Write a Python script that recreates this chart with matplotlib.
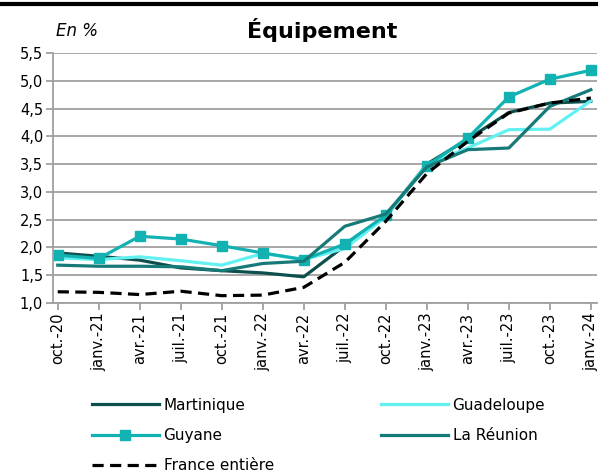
import matplotlib.pyplot as plt
from matplotlib.lines import Line2D

dates = ['oct.-20', 'janv.-21', 'avr.-21', 'juil.-21', 'oct.-21', 'janv.-22', 'avr.-22',
         'juil.-22', 'oct.-22', 'janv.-23', 'avr.-23', 'juil.-23', 'oct.-23', 'janv.-24']

martinique = [1.90, 1.84, 1.77, 1.63, 1.58, 1.54, 1.47, 2.03, 2.56, 3.50, 3.95, 4.43, 4.60, 4.63]
guadeloupe = [1.81, 1.78, 1.83, 1.76, 1.68, 1.89, 1.78, 1.98, 2.55, 3.50, 3.79, 4.12, 4.13, 4.64]
guyane = [1.86, 1.80, 2.20, 2.15, 2.03, 1.90, 1.78, 2.06, 2.58, 3.47, 3.97, 4.71, 5.03, 5.19]
reunion = [1.68, 1.66, 1.66, 1.65, 1.58, 1.71, 1.75, 2.38, 2.60, 3.45, 3.76, 3.79, 4.54, 4.84]
france = [1.20, 1.19, 1.15, 1.21, 1.13, 1.14, 1.28, 1.73, 2.47, 3.33, 3.91, 4.42, 4.60, 4.69]

c_mart = '#0d4f4d'
c_guad = '#62f0f0'
c_guy = '#13b2b2'
c_reu = '#167a78'
dash = (0, (3.5, 2))

fig = plt.figure(figsize=(6, 4.74), dpi=100)
ax = fig.add_axes([0.088, 0.361, 0.907, 0.527])

x = list(range(len(dates)))
ax.plot(x, martinique, color=c_mart, lw=2.3)
ax.plot(x, guadeloupe, color=c_guad, lw=2.3)
ax.plot(x, guyane, color=c_guy, lw=2.3, marker='s', ms=7.5)
ax.plot(x, reunion, color=c_reu, lw=2.3)
ax.plot(x, france, color='black', lw=2.3, ls=dash)

ax.set_ylim(1.0, 5.5)
ax.set_xlim(-0.12, 13.15)
yt = [1.0 + 0.5 * i for i in range(10)]
ax.set_yticks(yt)
ax.set_yticklabels([f'{v:.1f}'.replace('.', ',') for v in yt], fontsize=10.5)
ax.set_xticks(x)
ax.set_xticklabels(dates, rotation=90, fontsize=10.5)
ax.yaxis.grid(True, color='#a0a0a0', lw=1.3)
ax.set_axisbelow(True)
for s in ['top', 'right']:
    ax.spines[s].set_visible(False)
for s in ['left', 'bottom']:
    ax.spines[s].set_color('#a0a0a0')
    ax.spines[s].set_linewidth(1.3)
ax.tick_params(axis='both', color='#a0a0a0', width=1.3, length=5, pad=2)

fig.text(0.093, 0.935, 'En %', fontsize=12, style='italic', va='center')
fig.text(0.537, 0.937, 'Équipement', fontsize=16, fontweight='bold', ha='center', va='center')

# trait noir en haut
fig.add_artist(Line2D([0, 0.993], [0.991, 0.991], color='black', lw=3))

handles = [
    Line2D([], [], color=c_mart, lw=2.3),
    Line2D([], [], color=c_guy, lw=2.3, marker='s', ms=7.5),
    Line2D([], [], color='black', lw=2.3, ls=dash),
    Line2D([], [], color=c_guad, lw=2.3),
    Line2D([], [], color=c_reu, lw=2.3),
]
labels = ['Martinique', 'Guyane', 'France entière', 'Guadeloupe', 'La Réunion']
fig.legend(handles, labels, ncol=2, loc='upper left', bbox_to_anchor=(0.13, 0.19),
           frameon=False, fontsize=11, handlelength=4.4, handletextpad=0.3,
           columnspacing=7.0, labelspacing=1.0)

fig.savefig('out.png', dpi=100)
